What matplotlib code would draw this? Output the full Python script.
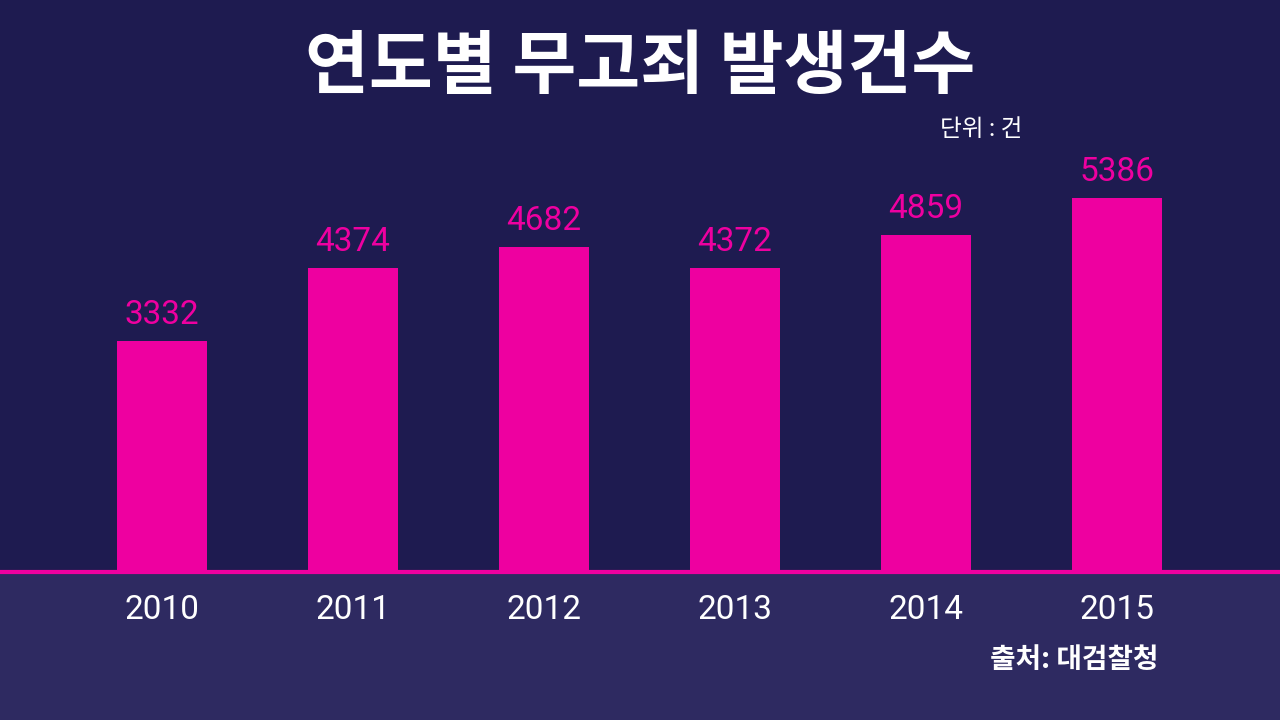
import matplotlib
matplotlib.use("Agg")
import matplotlib.pyplot as plt
from matplotlib import font_manager as fm

years = ["2010", "2011", "2012", "2013", "2014", "2015"]
counts = [3332, 4374, 4682, 4372, 4859, 5386]
title = "연도별 무고죄 발생건수"
unit = "단위 : 건"
source = "출처: 대검찰청"

BG = "#1e1b50"
BAND = "#2e2a61"
MAG = "#ee00a0"

names = {f.name for f in fm.fontManager.ttflist}
FONT = "DejaVu Sans"
for cand in ["Noto Sans CJK KR", "Noto Sans CJK JP", "Noto Sans CJK SC",
             "Noto Sans CJK TC", "Noto Sans KR", "Noto Sans CJK"]:
    if cand in names:
        FONT = cand
        break
else:
    for n in sorted(names):
        if "CJK" in n:
            FONT = n
            break

fig = plt.figure(figsize=(12.8, 7.2), dpi=100, facecolor=BG)
ax = fig.add_axes([0, 0, 1, 1])
ax.set_facecolor(BG)
ax.axis("off")
pxu = 374 / 5386.0
ax.set_xlim(-162 / 191, (1280 - 162) / 191)
ax.set_ylim(-148 / pxu, 572 / pxu)

x = list(range(len(years)))
ax.axhspan(-148 / pxu, 0, color=BAND, zorder=0)
ax.bar(x, counts, width=90 / 191, color=MAG, zorder=2)
ax.axhline(0, color=MAG, lw=3, zorder=3)
for xi, v, yr in zip(x, counts, years):
    ax.text(xi, v + 10 / pxu, str(v), ha="center", va="bottom", color=MAG,
            fontsize=24, family="Roboto")
    ax.text(xi, -38 / pxu, yr, ha="center", va="center", color="white",
            fontsize=24, family="Roboto")

fig.text(0.5, 1 - 68 / 720, title, ha="center", va="center", color="white",
         fontsize=50, family=FONT, weight="bold")
fig.text(1022 / 1280, 1 - 130 / 720, unit, ha="right", va="center", color="white",
         fontsize=17, family=FONT)
fig.text(1158 / 1280, 1 - 660 / 720, source, ha="right", va="center", color="white",
         fontsize=20, family=FONT, weight="bold")

fig.savefig("out.png", dpi=100, facecolor=BG)
